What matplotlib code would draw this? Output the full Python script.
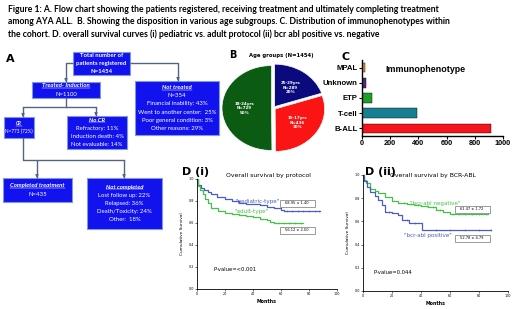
import numpy as np
import matplotlib
matplotlib.use('Agg')
from matplotlib import pyplot as plt
from matplotlib.patches import Rectangle

W, H = 520, 309

title_lines = [
    'Figure 1: A. Flow chart showing the patients registered, receiving treatment and ultimately completing treatment',
    'among AYA ALL.  B. Showing the disposition in various age subgroups. C. Distribution of immunophenotypes within',
    'the cohort. D. overall survival curves (i) pediatric vs. adult protocol (ii) bcr abl positive vs. negative',
]

# B: age groups
age_groups = ['25-29yrs', '15-17yrs', '18-24yrs']
age_counts = [289, 436, 729]
age_colors = ['#0a0a7e', '#fa1414', '#0b5c12']

# C: immunophenotype
pheno = ['B-ALL', 'T-cell', 'ETP', 'Unknown', 'MPAL']
pheno_counts = [918, 393, 74, 31, 21]
pheno_colors = ['#f5141c', '#177f92', '#1f9e25', '#55287e', '#f08a26']
pheno_ticks = [0, 200, 400, 600, 800, 1000]

# D(i): survival by protocol
ped_t = [0, 1, 3, 5, 8, 10, 14, 20, 25, 30, 35, 40, 45, 50, 55, 60, 62, 88]
ped_s = [1.0, 0.95, 0.92, 0.90, 0.88, 0.86, 0.84, 0.82, 0.80, 0.785, 0.775, 0.77, 0.76, 0.75, 0.735, 0.72, 0.71, 0.71]
ped_cens = [64, 68, 72, 76, 80, 84, 87]
adult_t = [0, 1, 2, 4, 6, 8, 10, 15, 20, 25, 30, 35, 40, 45, 50, 52, 55, 76]
adult_s = [1.0, 0.94, 0.90, 0.86, 0.82, 0.78, 0.74, 0.71, 0.695, 0.685, 0.67, 0.665, 0.655, 0.64, 0.625, 0.61, 0.60, 0.60]
adult_cens = [58, 62, 66, 70, 74]

# D(ii): survival by BCR-ABL
neg_t = [0, 1, 2, 5, 8, 10, 15, 20, 24, 30, 35, 40, 45, 50, 55, 60, 86]
neg_s = [1.0, 0.96, 0.93, 0.88, 0.86, 0.845, 0.81, 0.78, 0.76, 0.75, 0.74, 0.73, 0.72, 0.70, 0.685, 0.665, 0.665]
neg_cens = [28, 33, 38, 44, 48, 53, 62, 66, 70, 75, 80, 85]
pos_t = [0, 1, 3, 5, 8, 10, 13, 15, 20, 24, 27, 32, 41, 88]
pos_s = [1.0, 0.95, 0.90, 0.85, 0.82, 0.785, 0.74, 0.68, 0.675, 0.655, 0.61, 0.59, 0.525, 0.525]
pos_cens = [18, 30, 36, 50, 60, 70, 80, 88]


def rect(x0, y0, x1, y1):
    return [x0 / W, 1 - y1 / H, (x1 - x0) / W, (y1 - y0) / H]


fig = plt.figure(figsize=(5.2, 3.09), dpi=100)
fig.patch.set_facecolor('white')

bg = fig.add_axes([0, 0, 1, 1])
bg.set_xlim(0, W)
bg.set_ylim(H, 0)
bg.axis('off')

# overlay for text that must sit above the other axes
top = fig.add_axes([0, 0, 1, 1], zorder=10)
top.set_xlim(0, W)
top.set_ylim(H, 0)
top.axis('off')

for i, line in enumerate(title_lines):
    bg.text(8, 10 + 12 * i, line, fontsize=6.25, fontweight='bold', family='Lato',
            va='center', ha='left')

# ---- A: flow chart ----
box_fc = '#1212ee'
line_c = '#55657f'
underlined = []


def box(x0, y0, x1, y1, head, lines, fs=4.3, bold=False):
    bg.add_patch(Rectangle((x0, y0), x1 - x0, y1 - y0, fc=box_fc, ec='#7f9ad8', lw=0.8))
    rows = ([head] if head else []) + lines
    step = 8.2
    yc = (y0 + y1) / 2 - step * (len(rows) - 1) / 2
    xc = (x0 + x1) / 2
    for k, r in enumerate(rows):
        head_row = bool(head) and k == 0
        t = bg.text(xc, yc + step * k, r, color='white', fontsize=fs, family='Lato',
                    ha='center', va='center',
                    fontweight='bold' if (head_row or bold) else 'normal',
                    style='italic' if head_row else 'normal')
        if head_row:
            underlined.append(t)


def arrow(pts):
    xs, ys = zip(*pts)
    bg.plot(xs, ys, color=line_c, lw=1.0, solid_capstyle='butt')
    bg.annotate('', xy=pts[-1], xytext=(pts[-1][0], pts[-1][1] - 3),
                arrowprops=dict(arrowstyle='-|>', color=line_c, lw=0.8,
                                mutation_scale=4, shrinkA=0, shrinkB=0))


bg.text(10, 59, 'A', fontsize=8, fontweight='bold', ha='center', va='center')

arrow([(73, 63), (66, 63), (66, 82)])
arrow([(130, 63), (178, 63), (178, 81)])
bg.plot([66, 66], [98, 107], color=line_c, lw=1.0)
bg.plot([23, 96], [107, 107], color=line_c, lw=1.0)
arrow([(23, 107), (23, 117)])
arrow([(96, 107), (96, 116)])
bg.plot([23, 23, 124], [138, 160, 160], color=line_c, lw=1.0)
arrow([(37, 160), (37, 178)])
arrow([(124, 160), (124, 178)])

box(73, 52, 130, 75, None, ['Total number of', 'patients registered', 'N=1454'], bold=True)
box(32, 82, 100, 98, 'Treated- Induction', ['N=1100'])
box(135, 81, 219, 135, 'Not treated', ['N=354', 'Financial inability: 43%',
                                       'Went to another center:  25%',
                                       'Poor general condition: 3%', 'Other reasons: 29%'])
box(4, 117, 34, 138, 'CR', ['N=773 (72%)'], fs=3.4)
box(67, 116, 127, 149, 'No CR', ['Refractory: 11%', 'Induction death: 4%', 'Not evaluable: 14%'])
box(3, 178, 72, 202, 'Completed treatment', ['N=435'])
box(87, 178, 162, 229, 'Not completed', ['Lost follow up: 22%', 'Relapsed: 36%',
                                         'Death/Toxicity: 24%', 'Other:  18%'])

# ---- B: pie ----
bg.text(233, 55, 'B', fontsize=7, fontweight='bold', ha='center', va='center')
bg.text(281, 55, 'Age groups (N=1454)', fontsize=3.8, fontweight='bold', ha='center', va='center')
axp = fig.add_axes(rect(221, 63, 326, 153))
axp.patch.set_visible(False)
total = sum(age_counts)
plabels = [f'{g}\nN={n}\n{round(100 * n / total)}%' for g, n in zip(age_groups, age_counts)]
axp.pie(age_counts, colors=age_colors, startangle=90, counterclock=False,
        explode=[0.04, 0.04, 0.04], labels=plabels, labeldistance=0.55,
        wedgeprops=dict(ec='white', lw=0.5),
        textprops=dict(color='white', fontsize=2.9, fontweight='bold', ha='center', va='center'))
axp.set_aspect('auto')
axp.set_xlim(-1.06, 1.06)
axp.set_ylim(-1.06, 1.06)

# ---- C: bars ----
bg.text(346, 57, 'C', fontsize=8, fontweight='bold', ha='center', va='center')
axb = fig.add_axes(rect(362, 60, 503, 136))
axb.patch.set_visible(False)
ypos = np.arange(len(pheno))
axb.barh(ypos, pheno_counts, height=0.62, color=pheno_colors, ec='black', lw=0.3)
axb.set_xlim(0, 1000)
axb.set_ylim(-0.5, len(pheno) - 0.5)
axb.set_yticks(ypos)
axb.set_yticklabels(pheno, fontsize=5.6, fontweight='bold', family='Liberation Sans')
axb.set_xticks(pheno_ticks)
axb.set_xticklabels([str(v) for v in pheno_ticks], fontsize=5.3, fontweight='bold',
                    family='Liberation Sans')
for s in ['top', 'right']:
    axb.spines[s].set_visible(False)
for s in ['left', 'bottom']:
    axb.spines[s].set_linewidth(1.0)
axb.tick_params(length=2, width=0.8, pad=1)
axb.text(0.45, 0.88, 'Immunophenotype', transform=axb.transAxes, fontsize=6.4,
         fontweight='bold', family='Liberation Sans', ha='center', va='center')


# ---- D: survival curves ----
def km_axes(r):
    ax = fig.add_axes(r)
    ax.patch.set_visible(False)
    ax.set_xlim(0, 100)
    ax.set_ylim(0, 1.0)
    ax.set_xticks([0, 20, 40, 60, 80, 100])
    ax.set_yticks([0.0, 0.2, 0.4, 0.6, 0.8, 1.0])
    ax.set_yticklabels(['0.0', '0.2', '0.4', '0.6', '0.8', '1.0'])
    ax.tick_params(labelsize=2.4, length=1.2, width=0.4, pad=1)
    for s in ['top', 'right']:
        ax.spines[s].set_visible(False)
    for s in ['left', 'bottom']:
        ax.spines[s].set_linewidth(0.6)
    ax.set_xlabel('Months', fontsize=3.4, fontweight='bold', labelpad=2)
    ax.set_ylabel('Cumulative Survival', fontsize=3.1, labelpad=3)
    return ax


def km_curve(ax, t, s, cens, color):
    ax.step(t, s, where='post', color=color, lw=0.9, clip_on=False)
    idx = np.searchsorted(t, cens, side='right') - 1
    ax.plot(cens, np.array(s)[idx], ls='none', marker='|', ms=1.6, mew=0.4, color=color)


def value_box(x, y, txt):
    top.add_patch(Rectangle((x - 17.5, y - 3.5), 35, 7, fc='white', ec='#8a8a8a', lw=0.6))
    top.text(x, y, txt, fontsize=2.6, ha='center', va='center')


blue, green = '#4a5cc6', '#45c245'

top.text(182, 172, 'D (i)', fontsize=8, fontweight='bold', ha='left', va='center')
top.text(268, 175, 'Overall survival by protocol', fontsize=4.4, ha='center', va='center')
ax1 = km_axes(rect(197, 179, 337, 289))
km_curve(ax1, ped_t, ped_s, ped_cens, blue)
km_curve(ax1, adult_t, adult_s, adult_cens, green)
ax1.text(12, 0.18, 'P-value=<0.001', fontsize=3.8, ha='left', va='center')
top.text(258, 202, '"pediatric-type"', color=blue, fontsize=4.1, ha='center', va='center')
top.text(252, 212, '"adult-type"', color=green, fontsize=4.1, ha='center', va='center')
value_box(297, 203, '68.95 \u00b1 1.40')
value_box(297, 230, '56.12 \u00b1 2.50')

top.text(365, 172, 'D (ii)', fontsize=8, fontweight='bold', ha='left', va='center')
top.text(433, 175, 'Overall survival by BCR-ABL', fontsize=4.4, ha='center', va='center')
ax2 = km_axes(rect(363, 175, 508, 291))
km_curve(ax2, neg_t, neg_s, neg_cens, green)
km_curve(ax2, pos_t, pos_s, pos_cens, blue)
ax2.text(7, 0.16, 'P-value=0.044', fontsize=3.8, ha='left', va='center')
top.text(435, 203, '"bcr-abl negative"', color=green, fontsize=4.1, ha='center', va='center')
top.text(428, 236, '"bcr-abl positive"', color=blue, fontsize=4.1, ha='center', va='center')
value_box(472, 209, '61.47 \u00b1 1.72')
value_box(472, 238, '52.78 \u00b1 4.79')

# underline the italic box headers
fig.canvas.draw()
inv = bg.transData.inverted()
for t in underlined:
    bb = t.get_window_extent()
    (xa, ya), (xb, yb) = inv.transform([(bb.x0, bb.y0), (bb.x1, bb.y1)])
    bg.plot([xa, xb], [ya - 0.3, ya - 0.3], color='white', lw=0.35)

fig.savefig('out.png', dpi=100)
